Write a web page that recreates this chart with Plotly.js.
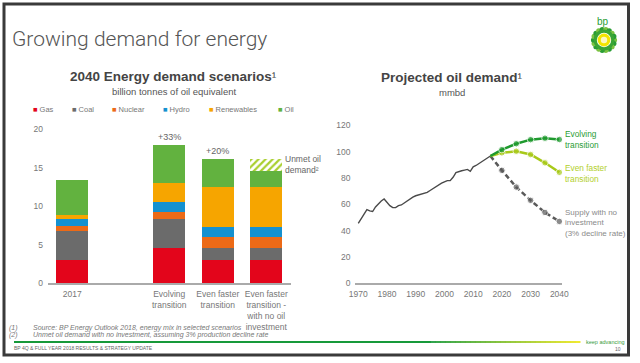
<!DOCTYPE html>
<html>
<head>
<meta charset="utf-8">
<script src="https://cdn.plot.ly/plotly-3.0.1.min.js"></script>
<style>html,body{margin:0;padding:0;background:#fff;}#chart{width:640px;height:363px;}</style>
</head>
<body>
<div id="chart"></div>
<script>
// ---------- DATA ----------
const scenarioCategories = ['2017', ' ', 'Evolving<br>transition', 'Even faster<br>transition', 'Even faster<br>transition -<br>with no oil<br>investment'];
const fuelNames = ['Gas', 'Coal', 'Nuclear', 'Hydro', 'Renewables', 'Oil'];
const gas        = [3.0,  null, 4.65, 3.05, 3.05];
const coal       = [3.8,  null, 3.7,  1.6,  1.6];
const nuclear    = [0.65, null, 0.95, 1.3,  1.3];
const hydro      = [0.85, null, 1.25, 1.3,  1.3];
const renewables = [0.55, null, 2.5,  5.3,  5.3];
const oil        = [4.55, null, 4.85, 3.55, 2.1];
const unmetOil   = [null, null, null, null, 1.45];
const growthLabels = [null, null, '+33%', '+20%', null];

const histYears = [1970,1971,1972,1973,1974,1975,1976,1977,1978,1979,1980,1981,1982,1983,1984,1985,1986,1987,1988,1989,1990,1991,1992,1993,1994,1995,1996,1997,1998,1999,2000,2001,2002,2003,2004,2005,2006,2007,2008,2009,2010,2011,2012,2013,2014,2015,2016];
const histDemand = [45.5,49,53,56,55,54.5,58,60.5,62.5,64,61.5,59,57.5,57.5,59,59.5,61,62.5,64.5,65.5,66.5,67,67.5,68,69,70.5,72,73.5,74.5,76,77,78,78,80.5,84,85,85.5,86,86.5,85,88.5,89.5,91,92.5,93.5,95,96.7];
const projYears = [2016, 2020, 2025, 2030, 2035, 2040];
const evolving   = [96.7, 101.5, 106.0, 109.1, 110.2, 109.2];
const evenFaster = [96.7, 99.1, 100.3, 97.8, 91.5, 84.3];
const noInvest   = [96.7, 85.8, 73.1, 63.0, 53.8, 47.0];
const leftTicks  = [0, 5, 10, 15, 20];
const rightYTicks = [0, 20, 40, 60, 80, 100, 120];
const rightXTicks = [1970, 1980, 1990, 2000, 2010, 2020, 2030, 2040];

// ---------- STYLE ----------
const W = 640, H = 363;
const px = x => x / W, py = y => 1 - y / H;
const FONT = 'Liberation Sans, Arial, sans-serif';
const fuelColors = ['#e3051b', '#6b6b6b', '#ec6a17', '#1591d0', '#f6a500', '#62b23f'];
const fuelSeries = [gas, coal, nuclear, hydro, renewables, oil];

const traces = [];
fuelSeries.forEach((vals, i) => {
  traces.push({
    type: 'bar', name: fuelNames[i], x: scenarioCategories, y: vals,
    marker: { color: fuelColors[i], line: { width: 0 } },
    xaxis: 'x', yaxis: 'y', showlegend: false, hoverinfo: 'skip'
  });
});
traces.push({
  type: 'bar', name: 'Unmet oil demand', x: scenarioCategories, y: unmetOil,
  marker: { color: '#ffffff', line: { width: 0 },
    pattern: { shape: '/', fgcolor: '#a9cf2e', bgcolor: '#ffffff', size: 5, solidity: 0.45 } },
  xaxis: 'x', yaxis: 'y', showlegend: false, hoverinfo: 'skip'
});

const markerSizes = projYears.map((y, i) => i === 0 ? 0 : 6.5);
traces.push({
  type: 'scatter', mode: 'lines', x: histYears, y: histDemand,
  line: { color: '#4a4a4a', width: 1.4 }, xaxis: 'x2', yaxis: 'y2', showlegend: false
});
traces.push({
  type: 'scatter', mode: 'lines+markers', x: projYears, y: noInvest,
  line: { color: '#5a5a5a', width: 2.5, dash: '5px,3px' },
  marker: { color: '#5a5a5a', size: markerSizes }, xaxis: 'x2', yaxis: 'y2', showlegend: false
});
traces.push({
  type: 'scatter', mode: 'lines+markers', x: projYears, y: evenFaster,
  line: { color: '#a8c919', width: 2.5 },
  marker: { color: '#a8c919', size: markerSizes }, xaxis: 'x2', yaxis: 'y2', showlegend: false
});
traces.push({
  type: 'scatter', mode: 'lines+markers', x: projYears, y: evolving,
  line: { color: '#1f9a2e', width: 2.5 },
  marker: { color: '#1f9a2e', size: markerSizes }, xaxis: 'x2', yaxis: 'y2', showlegend: false
});

const annotations = [];
function txt(x, y, text, opts) {
  annotations.push(Object.assign({
    xref: 'paper', yref: 'paper', x: px(x), y: py(y), text: text, showarrow: false,
    xanchor: 'left', yanchor: 'middle', align: 'left', font: { family: FONT, size: 9, color: '#666' }
  }, opts || {}));
}
// Slide title
txt(10, 39, 'Growing demand for energy', { font: { family: 'Roboto, Liberation Sans, sans-serif', size: 21, color: '#555', weight: 300 } });
// Left chart titles
txt(173, 76.5, '<b>2040 Energy demand scenarios</b>¹', { xanchor: 'center', align: 'center', font: { family: FONT, size: 13.5, color: '#444' } });
txt(174, 91.5, 'billion tonnes of oil equivalent', { xanchor: 'center', align: 'center', font: { family: FONT, size: 9.5, color: '#555' } });
// Legend (built from series names/colors)
const legendX = [31, 70, 110, 161, 207, 276];
fuelNames.forEach((n, i) => {
  txt(legendX[i], 110, '<span style="color:' + fuelColors[i] + '">■</span> ' + n, { font: { family: FONT, size: 7.5, color: '#777' } });
});
// Growth labels
growthLabels.forEach((g, i) => {
  if (!g) return;
  const top = fuelSeries.reduce((s, arr) => s + (arr[i] || 0), 0) + (unmetOil[i] || 0);
  annotations.push({ xref: 'x', yref: 'y', x: scenarioCategories[i], y: top, text: g, showarrow: false,
    yanchor: 'bottom', yshift: 1, font: { family: FONT, size: 9, color: '#666' } });
});
txt(283, 164.5, 'Unmet oil<br>demand²', { font: { family: FONT, size: 8.5, color: '#666' } });
// Right chart titles
txt(452, 77, '<b>Projected oil demand</b>¹', { xanchor: 'center', align: 'center', font: { family: FONT, size: 13.5, color: '#444' } });
txt(452, 92, 'mmbd', { xanchor: 'center', align: 'center', font: { family: FONT, size: 9.5, color: '#555' } });
txt(563, 139.5, 'Evolving<br>transition', { font: { family: FONT, size: 8.3, color: '#2a9d34' } });
txt(563, 173.5, 'Even faster<br>transition', { font: { family: FONT, size: 8.3, color: '#b3cf2b' } });
txt(563, 223, 'Supply with no<br>investment<br>(3% decline rate)', { font: { family: FONT, size: 8, color: '#8a8a8a' } });
// Footnotes
txt(7, 327.5, '<i>(1)</i>', { font: { family: FONT, size: 7, color: '#777' } });
txt(31, 327.5, '<i>Source: BP Energy Outlook 2018, energy mix in selected scenarios</i>', { font: { family: FONT, size: 7, color: '#777' } });
txt(7, 334.8, '<i>(2)</i>', { font: { family: FONT, size: 7, color: '#777' } });
txt(31, 334.8, '<i>Unmet oil demand with no investment, assuming 3% production decline rate</i>', { font: { family: FONT, size: 7, color: '#777' } });
txt(12, 347.5, 'BP 4Q &amp; FULL YEAR 2018 RESULTS &amp; STRATEGY UPDATE', { font: { family: FONT, size: 5, color: '#666' } });
txt(584, 342, 'keep advancing', { font: { family: FONT, size: 5.5, color: '#3b9a3b' } });
txt(623, 348.5, '10', { xanchor: 'right', font: { family: FONT, size: 5, color: '#666' } });
txt(603, 22, 'bp', { xanchor: 'center', font: { family: FONT, size: 10, color: '#2a9d34' } });

// Shapes: frame, footer gradient line, logo
const shapes = [];
shapes.push({ type: 'rect', xref: 'paper', yref: 'paper', x0: px(4), x1: px(628.5), y0: py(4), y1: py(355),
  line: { color: '#3a3a3a', width: 3 }, fillcolor: 'rgba(0,0,0,0)' });
function mix(a, b, t) {
  const ha = a.match(/\w\w/g).map(h => parseInt(h, 16)), hb = b.match(/\w\w/g).map(h => parseInt(h, 16));
  return 'rgb(' + ha.map((v, i) => Math.round(v + (hb[i] - v) * t)).join(',') + ')';
}
const lineStart = 14, lineEnd = 580, fadeStart = 430;
shapes.push({ type: 'line', xref: 'paper', yref: 'paper', x0: px(lineStart), x1: px(fadeStart + 1), y0: py(342), y1: py(342), line: { color: '#17993a', width: 1.8 } });
const nSeg = 30;
for (let k = 0; k < nSeg; k++) {
  const a = fadeStart + (lineEnd - fadeStart) * k / nSeg, b = fadeStart + (lineEnd - fadeStart) * (k + 1) / nSeg;
  shapes.push({ type: 'line', xref: 'paper', yref: 'paper', x0: px(a), x1: px(b + 0.5), y0: py(342), y1: py(342),
    line: { color: mix('17993a', 'f0e81e', (k + 0.5) / nSeg), width: 1.8 } });
}
function circle(cx, cy, r, color) {
  shapes.push({ type: 'circle', xref: 'paper', yref: 'paper', x0: px(cx - r), x1: px(cx + r), y0: py(cy + r), y1: py(cy - r),
    fillcolor: color, line: { width: 0 } });
}
const lcx = 604, lcy = 40;
for (let k = 0; k < 18; k++) {
  const ang = k * 2 * Math.PI / 18;
  circle(lcx + 10.5 * Math.cos(ang), lcy + 10.5 * Math.sin(ang), 2.6, k % 2 ? '#2a9d34' : '#7cc242');
}
circle(lcx, lcy, 10.5, '#3aa535');
circle(lcx, lcy, 7.2, '#ffffff');
circle(lcx, lcy, 6.4, '#f2e500');
circle(lcx, lcy, 3.2, '#fbf7c0');

const axisFont = { family: FONT, size: 8.5, color: '#777' };
const layout = {
  width: W, height: H, margin: { l: 0, r: 0, t: 0, b: 0 },
  paper_bgcolor: '#ffffff', plot_bgcolor: 'rgba(0,0,0,0)',
  barmode: 'stack', bargap: 0.35, showlegend: false,
  xaxis: { domain: [px(48), px(290.5)], type: 'category', categoryorder: 'array', categoryarray: scenarioCategories,
    anchor: 'y', showgrid: false, zeroline: false, showline: true, linecolor: '#aaa', linewidth: 1.2,
    ticks: '', tickfont: axisFont, ticklabelstandoff: 2, fixedrange: true },
  yaxis: { domain: [py(283.3), py(129.3)], range: [0, 20], tickvals: leftTicks, anchor: 'x',
    showgrid: false, zeroline: false, showline: false, ticks: '', tickfont: axisFont, ticklabelstandoff: 4 },
  xaxis2: { domain: [px(355.4), px(562.2)], range: [1969, 2041], tickvals: rightXTicks, anchor: 'y2',
    showgrid: false, zeroline: false, showline: true, linecolor: '#aaa', linewidth: 1.2, ticks: '', tickfont: axisFont, ticklabelstandoff: 2 },
  yaxis2: { domain: [py(283.3), py(125.3)], range: [0, 120], tickvals: rightYTicks, anchor: 'x2',
    showgrid: false, zeroline: false, showline: false, ticks: '', tickfont: axisFont, ticklabelstandoff: 4 },
  annotations: annotations, shapes: shapes
};
Plotly.newPlot('chart', traces, layout, { staticPlot: true, displayModeBar: false });
</script>
</body>
</html>
